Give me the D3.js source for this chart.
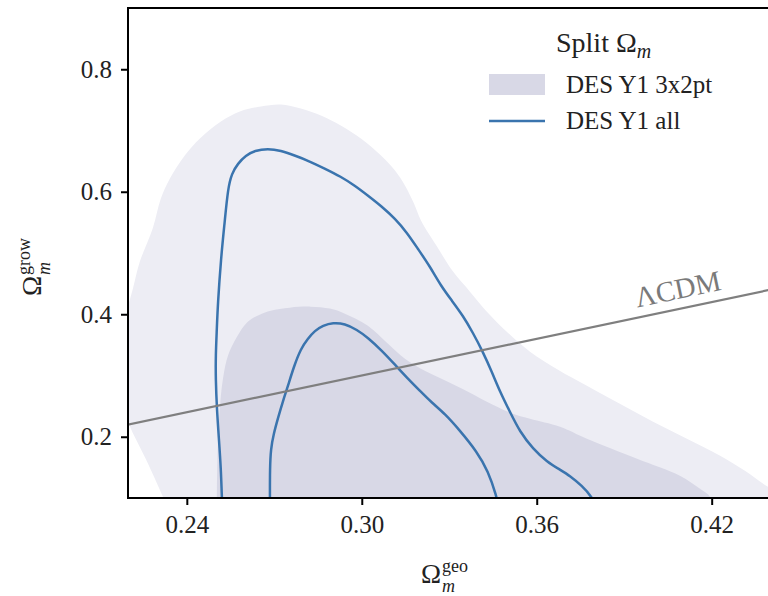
<!DOCTYPE html>
<html>
<head>
<meta charset="utf-8">
<script src="https://cdn.jsdelivr.net/npm/d3@7"></script>
<style>
  body { margin: 0; background: #fff; }
  svg text { font-family: "Liberation Serif", "DejaVu Serif", serif; fill: #222; }
</style>
</head>
<body>
<svg id="chart" width="768" height="596"></svg>
<script>
// contour traces, [Omega_m geo, Omega_m grow]
const y1_3x2pt_outer = [
  [0.2342, 0.074], [0.2318, 0.102], [0.2259, 0.164], [0.2201, 0.221], [0.214, 0.30],
  [0.2177, 0.3765], [0.2215, 0.4418], [0.2239, 0.486], [0.2283, 0.54], [0.2311, 0.589],
  [0.2342, 0.6216], [0.2393, 0.6591], [0.2445, 0.6869], [0.2517, 0.7147], [0.2582, 0.731],
  [0.2654, 0.7392], [0.2722, 0.7425], [0.2791, 0.736], [0.286, 0.7245], [0.2928, 0.7082],
  [0.2997, 0.6869], [0.3066, 0.6591], [0.3114, 0.6346], [0.3148, 0.6101], [0.3179, 0.5807],
  [0.3203, 0.5529], [0.3258, 0.5105], [0.3313, 0.4696], [0.3371, 0.4369], [0.3429, 0.4042],
  [0.3501, 0.3699], [0.3577, 0.3389], [0.3673, 0.3095], [0.3772, 0.2833], [0.3885, 0.2539],
  [0.3999, 0.2245], [0.4115, 0.1967], [0.4229, 0.169], [0.4314, 0.1444], [0.4393, 0.1183],
  [0.447, 0.10], [0.45, 0.07]
];
const y1_3x2pt_inner = [
  [0.2503, 0.07], [0.2503, 0.102], [0.2506, 0.1804], [0.2513, 0.2458], [0.2524, 0.2948],
  [0.2541, 0.3324], [0.2572, 0.3634], [0.2609, 0.3879], [0.265, 0.3993], [0.2688, 0.4059],
  [0.2753, 0.4108], [0.2825, 0.4124], [0.2891, 0.4092], [0.2942, 0.401], [0.3021, 0.3814],
  [0.309, 0.352], [0.3148, 0.3275], [0.3216, 0.3078], [0.3295, 0.2899], [0.3371, 0.2719],
  [0.3429, 0.2572], [0.3518, 0.2376], [0.3577, 0.2294], [0.368, 0.2163], [0.3772, 0.1967],
  [0.3944, 0.1641], [0.4091, 0.1363], [0.416, 0.115], [0.4194, 0.102], [0.421, 0.07]
];
const y1_all_outer = [
  [0.2522, 0.085], [0.252, 0.102], [0.2517, 0.1477], [0.251, 0.1967], [0.2503, 0.2458],
  [0.2499, 0.2948], [0.2499, 0.3324], [0.2503, 0.3765], [0.2506, 0.4141], [0.2517, 0.4908],
  [0.253, 0.5513], [0.2541, 0.6052], [0.2554, 0.6297], [0.2575, 0.6461], [0.2602, 0.6591],
  [0.2633, 0.6673], [0.2678, 0.6706], [0.2722, 0.6673], [0.277, 0.6591], [0.2815, 0.651],
  [0.2873, 0.6379], [0.2928, 0.6248], [0.2976, 0.6101], [0.3021, 0.5938], [0.3069, 0.5758],
  [0.3114, 0.5562], [0.3155, 0.5333], [0.3192, 0.5072], [0.3234, 0.4778], [0.3271, 0.4467],
  [0.3309, 0.4222], [0.3347, 0.3977], [0.3381, 0.3699], [0.3415, 0.3389], [0.3446, 0.3062],
  [0.3474, 0.2735], [0.3508, 0.2408], [0.3542, 0.2082], [0.3587, 0.1804], [0.3635, 0.1592],
  [0.368, 0.1461], [0.3714, 0.1363], [0.3755, 0.1199], [0.3789, 0.102], [0.3805, 0.085]
];
const y1_all_inner = [
  [0.2685, 0.085], [0.2685, 0.102], [0.2685, 0.1477], [0.2688, 0.1804], [0.2698, 0.2049],
  [0.2712, 0.2294], [0.2729, 0.2572], [0.2746, 0.2817], [0.2767, 0.3144], [0.2791, 0.3438],
  [0.2815, 0.3601], [0.2839, 0.3732], [0.2867, 0.3814], [0.2901, 0.3863], [0.2942, 0.3846],
  [0.2983, 0.3748], [0.3021, 0.3618], [0.3069, 0.3405], [0.3114, 0.3176], [0.3158, 0.2948],
  [0.3199, 0.2752], [0.324, 0.2556], [0.3285, 0.2376], [0.3337, 0.2098], [0.3395, 0.1755],
  [0.3433, 0.1444], [0.3463, 0.102], [0.3468, 0.085]
];
const lcdm = [[0.21, 0.21], [0.45, 0.45]];

const xTicks = [0.24, 0.30, 0.36, 0.42];
const yTicks = [0.2, 0.4, 0.6, 0.8];
const legendItems = ["DES Y1 3x2pt", "DES Y1 all"];

const colLight = "#ededf4", colDark = "#d8d8e6", colBlue = "#3a74ae";

const svg = d3.select("#chart");
const margin = {left: 128, top: 8, bottom: 98};
const W = 768, H = 596;

const x = d3.scaleLinear().domain([0.22, 0.44]).range([128.5, 770]);
const y = d3.scaleLinear().domain([0.1, 0.9]).range([H - margin.bottom, margin.top]);

svg.append("clipPath").attr("id", "plotclip")
  .append("rect").attr("x", margin.left).attr("y", margin.top)
  .attr("width", W - margin.left).attr("height", H - margin.bottom - margin.top);

const plot = svg.append("g").attr("clip-path", "url(#plotclip)");

const closed = d3.line().x(d => x(d[0])).y(d => y(d[1])).curve(d3.curveCatmullRomClosed);
const open = d3.line().x(d => x(d[0])).y(d => y(d[1])).curve(d3.curveBasis);

plot.append("path").attr("d", closed(y1_3x2pt_outer)).attr("fill", colLight);
plot.append("path").attr("d", closed(y1_3x2pt_inner)).attr("fill", colDark);

[y1_all_outer, y1_all_inner].forEach(c => {
  plot.append("path").attr("d", open(c))
    .attr("fill", "none").attr("stroke", colBlue).attr("stroke-width", 2.5);
});

plot.append("path").attr("d", d3.line().x(d => x(d[0])).y(d => y(d[1]))(lcdm))
  .attr("fill", "none").attr("stroke", "#7f7f7f").attr("stroke-width", 2.2);

// LCDM label along the line
const ang = Math.atan2(y(0.44) - y(0.22), x(0.44) - x(0.22)) * 180 / Math.PI;
svg.append("text")
  .attr("transform", `translate(${x(0.3945)},${y(0.3945) - 10}) rotate(${ang})`)
  .attr("font-size", 29).style("fill", "#7a7a7a")
  .text("ΛCDM");

// axes
const xAxis = svg.append("g").attr("transform", `translate(0,${y(0.1)})`)
  .call(d3.axisBottom(x).tickValues(xTicks).tickFormat(d3.format(".2f")).tickSize(7).tickPadding(10));
const yAxis = svg.append("g").attr("transform", `translate(${margin.left},0)`)
  .call(d3.axisLeft(y).tickValues(yTicks).tickFormat(d3.format(".1f")).tickSize(7).tickPadding(9));
[xAxis, yAxis].forEach(a => {
  a.select(".domain").remove();
  a.selectAll(".tick line").attr("stroke", "#000").attr("stroke-width", 2);
  a.selectAll(".tick text").attr("font-size", 25).attr("font-family", "Liberation Serif").style("fill", "#222");
});

// spines (right side is cropped off in the figure)
svg.append("path")
  .attr("d", `M${W},${margin.top}H${margin.left}V${y(0.1)}H${W}`)
  .attr("fill", "none").attr("stroke", "#000").attr("stroke-width", 2);

// axis labels
function omegaLabel(g, sup) {
  g.append("text").attr("text-anchor", "end").attr("font-size", 27).text("Ω");
  g.append("text").attr("x", 1).attr("y", -11).attr("font-size", 18).text(sup);
  g.append("text").attr("x", 1).attr("y", 9).attr("font-size", 18)
    .attr("font-style", "italic").text("m");
}
omegaLabel(svg.append("g").attr("transform", "translate(441,583)"), "geo");
omegaLabel(svg.append("g").attr("transform", "translate(41,276) rotate(-90)"), "grow");

// legend
const leg = svg.append("g");
const t = leg.append("text").attr("x", 556).attr("y", 52).attr("font-size", 28);
t.append("tspan").text("Split Ω");
t.append("tspan").attr("dy", 6).attr("font-size", 20).attr("font-style", "italic").text("m");

leg.append("rect").attr("x", 489).attr("y", 74).attr("width", 56).attr("height", 21).attr("fill", colDark);
leg.append("line").attr("x1", 489).attr("x2", 545).attr("y1", 121).attr("y2", 121)
  .attr("stroke", colBlue).attr("stroke-width", 2.5);
leg.selectAll("text.item").data(legendItems).enter().append("text")
  .attr("class", "item").attr("x", 566).attr("y", (d, i) => 93 + i * 36)
  .attr("font-size", 25).text(d => d);
</script>
</body>
</html>
